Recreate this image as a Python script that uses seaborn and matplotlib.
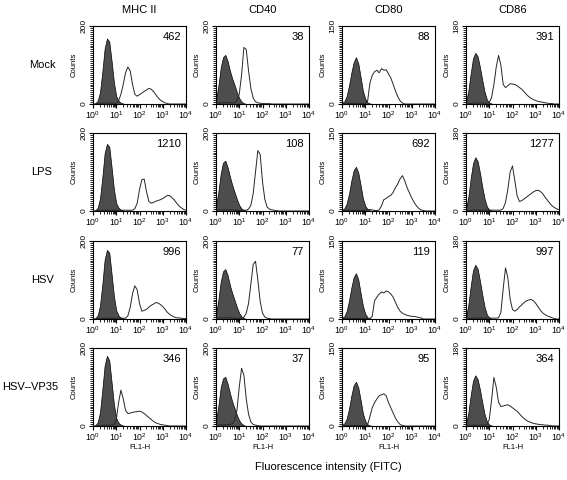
import numpy as np
import pandas as pd
import seaborn as sns
import matplotlib
matplotlib.use("Agg")
import matplotlib.pyplot as plt
from matplotlib.ticker import LogLocator, NullFormatter, MultipleLocator, FixedLocator

# log10 fluorescence channel centres, 10^0 .. 10^4
LOG_BINS = np.round(np.arange(0, 4.01, 0.1), 1)

MARKERS = ["MHC II", "CD40", "CD80", "CD86"]
SAMPLES = ["Mock", "LPS", "HSV", "HSV\u2013VP35"]
Y_MAX = [200, 200, 150, 180]
MFI = [
    [462, 38, 88, 391],
    [1210, 108, 692, 1277],
    [996, 77, 119, 997],
    [346, 37, 95, 364],
]

# isotype control (filled) counts, one list per sample row
ISO_MHC2 = [
    [0, 2, 8, 30, 82, 142, 168, 160, 110, 55, 20, 8, 3, 1],
    [0, 2, 8, 32, 85, 148, 172, 165, 112, 55, 20, 8, 3, 1],
    [0, 2, 9, 34, 88, 152, 177, 170, 115, 58, 22, 9, 3, 1],
    [0, 2, 9, 35, 92, 155, 180, 168, 112, 55, 20, 8, 3, 1],
]
ISO_CD40 = [
    [12, 45, 92, 120, 126, 110, 85, 65, 48, 30, 15, 6, 2],
    [12, 48, 95, 124, 129, 112, 88, 66, 48, 30, 15, 6, 2, 1],
    [12, 48, 95, 122, 128, 112, 86, 66, 48, 30, 15, 6, 2],
    [14, 50, 98, 122, 126, 108, 84, 62, 45, 28, 14, 6, 2],
]
ISO_CD80 = [
    [2, 5, 15, 35, 60, 80, 90, 78, 52, 25, 10, 3, 1],
    [2, 5, 14, 33, 58, 78, 85, 74, 50, 24, 10, 3, 1],
    [2, 5, 15, 35, 60, 80, 88, 76, 50, 25, 10, 3, 1],
    [2, 5, 14, 33, 58, 78, 85, 74, 50, 24, 10, 3, 1],
]
ISO_CD86 = [
    [5, 30, 70, 105, 118, 110, 85, 55, 28, 10, 3, 1],
    [5, 32, 75, 110, 124, 115, 88, 56, 28, 10, 3, 1],
    [5, 32, 75, 112, 125, 116, 88, 56, 28, 10, 3, 1],
    [5, 30, 70, 104, 117, 108, 84, 54, 27, 10, 3, 1],
]

# stained sample (open) counts
STAIN_MHC2 = [
    [0, 0, 1, 1, 2, 2, 2, 2, 2, 2, 2, 8, 25, 50, 80, 95, 85, 50, 25, 20,
     24, 28, 32, 36, 40, 38, 32, 24, 16, 10, 6, 3, 1],
    [0, 0, 1, 1, 2, 2, 2, 2, 2, 2, 2, 2, 2, 2, 2, 2, 2, 2, 6, 20,
     55, 80, 82, 50, 25, 20, 22, 25, 27, 29, 32, 36, 40, 39, 34, 28, 20, 13, 8, 4, 2],
    [0, 0, 1, 1, 2, 2, 2, 2, 2, 2, 2, 2, 2, 2, 2, 8, 30, 65, 85, 75,
     40, 20, 22, 25, 30, 35, 38, 42, 41, 37, 32, 25, 17, 12, 8, 5, 3, 3, 2, 1, 1],
    [0, 0, 1, 1, 2, 2, 2, 2, 2, 3, 15, 60, 92, 70, 40, 32, 33, 35, 36, 37,
     38, 36, 32, 27, 22, 17, 12, 8, 6, 4, 3, 2, 1],
]
STAIN_CD40 = [
    [1, 2, 3, 3, 3, 3, 3, 3, 3, 8, 25, 75, 145, 140, 85, 40, 15, 6, 3, 2,
     1, 1, 1, 1],
    [1, 2, 3, 3, 3, 3, 3, 3, 2, 2, 2, 2, 2, 2, 5, 15, 45, 100, 155, 145,
     75, 30, 10, 5, 3, 2, 1],
    [1, 2, 3, 3, 3, 3, 3, 3, 2, 2, 2, 2, 5, 15, 40, 90, 140, 148, 100, 45,
     15, 5, 2, 1],
    [1, 2, 3, 3, 3, 3, 4, 6, 15, 40, 100, 148, 130, 70, 30, 10, 4, 2, 1],
]
STAIN_CD80 = [
    [0, 0, 1, 1, 1, 1, 1, 1, 1, 1, 1, 5, 40, 55, 62, 65, 60, 68, 65, 66,
     58, 50, 38, 25, 14, 6, 2],
    [0, 0, 1, 1, 1, 1, 1, 1, 1, 1, 2, 2, 3, 2, 1, 1, 2, 10, 22, 24,
     28, 30, 36, 45, 52, 62, 68, 58, 45, 35, 25, 17, 10, 5, 2, 1],
    [0, 0, 1, 1, 1, 1, 1, 1, 1, 1, 1, 1, 1, 5, 35, 42, 48, 52, 50, 54,
     52, 48, 42, 32, 22, 15, 11, 9, 7, 6, 5, 5, 4, 3, 2],
    [0, 0, 1, 1, 1, 1, 1, 1, 1, 1, 1, 2, 18, 35, 45, 52, 58, 60, 62, 58,
     45, 35, 25, 15, 8, 3, 1],
]
STAIN_CD86 = [
    [0, 1, 1, 2, 2, 2, 2, 2, 2, 2, 3, 15, 45, 85, 112, 90, 45, 38, 42, 47,
     46, 45, 42, 38, 34, 28, 22, 17, 13, 10, 8, 6, 5, 4, 3, 2, 1, 1],
    [0, 1, 1, 2, 2, 2, 2, 2, 2, 2, 2, 2, 2, 2, 2, 2, 6, 20, 50, 90,
     104, 70, 35, 22, 24, 28, 32, 36, 40, 44, 47, 48, 45, 40, 32, 25, 18, 12, 8, 5, 3],
    [0, 1, 1, 2, 2, 2, 2, 2, 2, 2, 2, 2, 2, 2, 3, 15, 70, 118, 95, 45,
     22, 18, 22, 28, 33, 38, 42, 44, 45, 42, 36, 28, 20, 14, 10, 7, 5, 3, 1],
    [0, 1, 1, 2, 2, 2, 2, 2, 2, 3, 15, 60, 112, 90, 55, 45, 46, 48, 49, 46,
     42, 38, 34, 28, 22, 17, 13, 10, 8, 6, 5, 4, 3, 3, 2, 2, 1],
]

ISO = [ISO_MHC2, ISO_CD40, ISO_CD80, ISO_CD86]
STAIN = [STAIN_MHC2, STAIN_CD40, STAIN_CD80, STAIN_CD86]

# layout in pixels
W, H = 567, 480
COL_LEFT = [93, 216, 342, 466]
ROW_TOP = [26, 133, 241, 348]
AX_W, AX_H = 93, 78
ROW_LABEL_X = [42, 42, 42, 30]


def pad(vals):
    vals = list(vals)
    return np.array(vals + [0] * (len(LOG_BINS) - len(vals)), dtype=float)


sns.set_style("ticks")
plt.rcParams["font.family"] = ["Liberation Sans", "DejaVu Sans"]
plt.rcParams["mathtext.fontset"] = "custom"
plt.rcParams["mathtext.rm"] = "Liberation Sans"
plt.rcParams["mathtext.it"] = "Liberation Sans"
for key in ["text.color", "axes.labelcolor", "xtick.color", "ytick.color"]:
    plt.rcParams[key] = "black"

fig = plt.figure(figsize=(W / 100, H / 100), dpi=100)
x = 10 ** LOG_BINS

for r, sample in enumerate(SAMPLES):
    for c, marker in enumerate(MARKERS):
        ax = fig.add_axes([COL_LEFT[c] / W, 1 - (ROW_TOP[r] + AX_H) / H, AX_W / W, AX_H / H])
        iso = pad(ISO[c][r])
        stain = pad(STAIN[c][r])
        ax.fill_between(x, iso, color="#4d4d4d", edgecolor="black", lw=0.5, zorder=2)
        df = pd.DataFrame({"fl": x, "count": stain})
        sns.lineplot(data=df, x="fl", y="count", ax=ax, color="#262626", lw=0.7, zorder=3)

        ax.set_xscale("log")
        ax.set_xlim(1, 1e4)
        ax.set_ylim(0, Y_MAX[c])
        ax.xaxis.set_major_locator(LogLocator(base=10, numticks=6))
        ax.xaxis.set_minor_locator(LogLocator(base=10, subs=np.arange(2, 10), numticks=12))
        ax.xaxis.set_minor_formatter(NullFormatter())
        ax.yaxis.set_major_locator(FixedLocator([0, Y_MAX[c]]))
        ax.yaxis.set_minor_locator(MultipleLocator(Y_MAX[c] / 40))
        ax.yaxis.set_minor_formatter(NullFormatter())
        ax.tick_params(which="major", direction="out", length=3, width=0.8,
                       labelsize=6.3, pad=1)
        ax.tick_params(which="minor", direction="out", length=2.2, width=0.6)
        ax.tick_params(axis="y", which="major", labelrotation=90, labelsize=6)
        plt.setp(ax.get_yticklabels(), va="center")
        for s in ax.spines.values():
            s.set_linewidth(0.8)
            s.set_color("black")

        ax.set_ylabel("Counts", fontsize=5.5, labelpad=2)
        if r == len(SAMPLES) - 1:
            ax.set_xlabel("FL1-H", fontsize=5.5, labelpad=0.5)
        else:
            ax.set_xlabel("")

        ax.text(0.945, 0.86, str(MFI[r][c]), transform=ax.transAxes,
                ha="right", va="center", fontsize=8)

        if r == 0:
            fig.text((COL_LEFT[c] + AX_W / 2) / W, 1 - 10 / H, marker,
                     ha="center", va="center", fontsize=8)

    fig.text(ROW_LABEL_X[r] / W, 1 - (ROW_TOP[r] + AX_H / 2) / H, sample,
             ha="center", va="center", fontsize=8)

fig.text(328 / W, 1 - 467 / H, "Fluorescence intensity (FITC)",
         ha="center", va="center", fontsize=8)

fig.savefig("out.png", dpi=100)
